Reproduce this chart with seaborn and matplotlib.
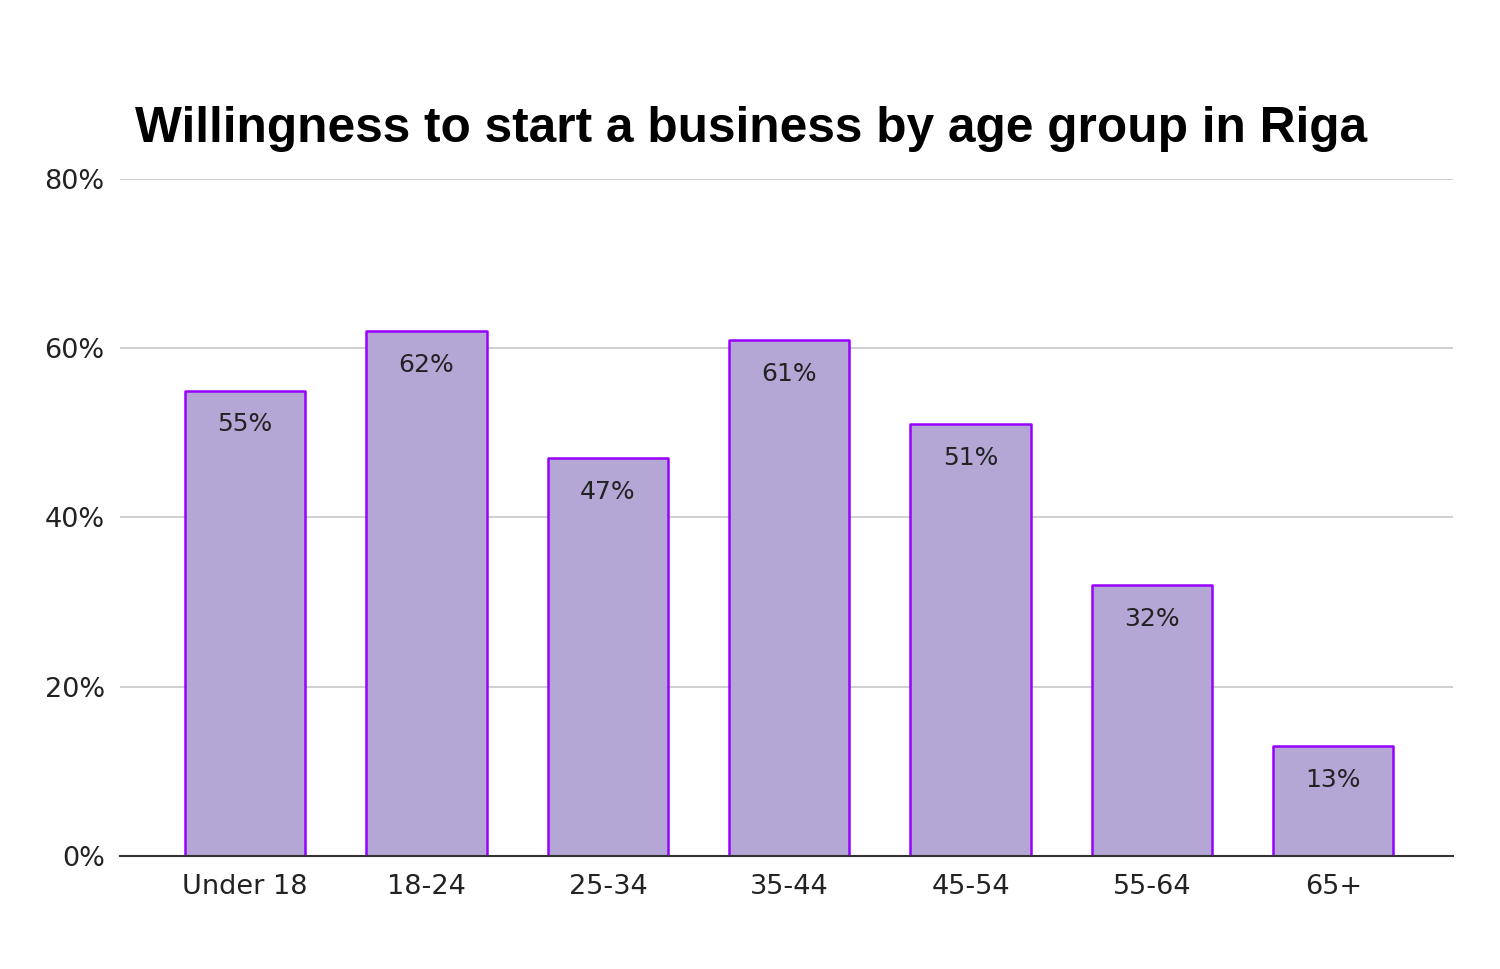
import matplotlib
matplotlib.use("Agg")
import matplotlib.pyplot as plt
import seaborn as sns
import pandas as pd

categories = ["Under 18", "18-24", "25-34", "35-44", "45-54", "55-64", "65+"]
values = [55, 62, 47, 61, 51, 32, 13]
yticks = [0, 20, 40, 60, 80]
title = "Willingness to start a business by age group in Riga"

sns.set_theme(style="white")
plt.rcParams['font.family'] = ['DejaVu Sans']

df = pd.DataFrame({"age": categories, "pct": values})

fig = plt.figure(figsize=(15, 9.69), dpi=100)
ax = fig.add_axes([0.08, 0.1166, 0.8887, 0.6987])

sns.barplot(data=df, x="age", y="pct", ax=ax, color="#b4a7d6", width=0.663,
            edgecolor="#9900ff", linewidth=1.8, saturation=1, zorder=3)
for p in ax.patches:
    p.set_joinstyle("round")

ax.set_ylim(0, 80)
ax.set_xlim(-0.69, 6.66)
ax.set_yticks(yticks)
ax.set_yticklabels([f"{t}%" for t in yticks])
ax.yaxis.grid(True, color="#cccccc", linewidth=1.3, zorder=0)
ax.tick_params(axis="both", length=0, labelsize=19.5, colors="#222222")
ax.tick_params(axis="y", pad=11)
ax.tick_params(axis="x", pad=13)
ax.set_xlabel("")
ax.set_ylabel("")
for s in ["top", "right", "left"]:
    ax.spines[s].set_visible(False)
ax.spines["bottom"].set_color("#333333")
ax.spines["bottom"].set_linewidth(1.5)
ax.spines["bottom"].set_zorder(4)

for i, v in enumerate(values):
    ax.text(i, v - 4, f"{v}%", ha="center", va="center", fontsize=18, color="#222222", zorder=5)

fig.text(0.09, 0.867, title, fontsize=35.7, fontweight="bold", ha="left", va="center",
         color="#000000", family=["Liberation Sans", "DejaVu Sans"])

fig.savefig("out.png", dpi=100, facecolor="white")
